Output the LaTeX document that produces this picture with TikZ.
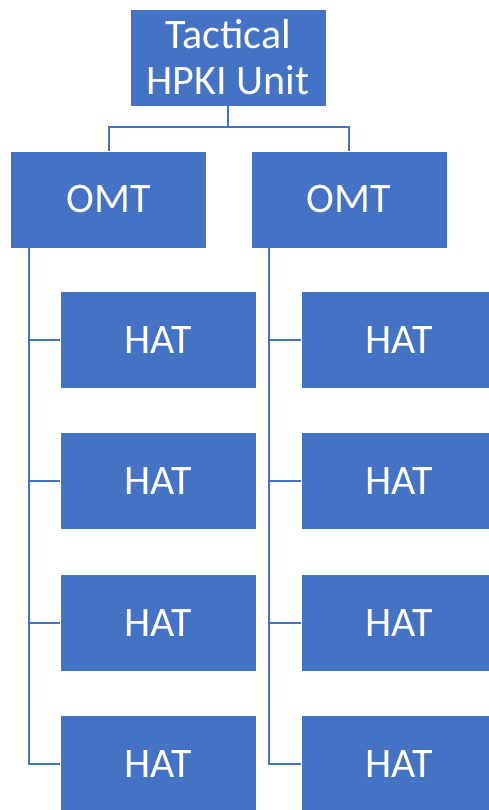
\documentclass[tikz,border=0pt]{standalone}
\usepackage{fontspec}
\setmainfont{Carlito}
\usetikzlibrary{positioning}
\definecolor{unitblue}{HTML}{4472C4}
\tikzset{
  unit/.style={rectangle, fill=unitblue, draw=white, line width=0.8pt,
    text=white, minimum width=196pt, minimum height=97pt, inner sep=0pt,
    font=\fontsize{42}{46}\selectfont, align=center},
  link/.style={draw=unitblue, line width=2pt}
}
\begin{document}
\begin{tikzpicture}[x=1pt, y=-1pt, node distance=141.3pt]
  \useasboundingbox (0,0) rectangle (488,810);
  \node[unit] (hpki) at (228,57.5) {Tactical\\HPKI Unit};
  \node[unit] (omtA) at (108.5,199.5) {OMT};
  \node[unit] (omtB) at (349,199.5) {OMT};
  \node[unit] (hatA1) at (158,340) {HAT};
  \node[unit, below of=hatA1] (hatA2) {HAT};
  \node[unit, below of=hatA2] (hatA3) {HAT};
  \node[unit, below of=hatA3] (hatA4) {HAT};
  \node[unit] (hatB1) at (399,340) {HAT};
  \node[unit, below of=hatB1] (hatB2) {HAT};
  \node[unit, below of=hatB2] (hatB3) {HAT};
  \node[unit, below of=hatB3] (hatB4) {HAT};
  \draw[link] (hpki.south) -- ++(0,21) -| (omtA.north);
  \draw[link] (hpki.south) -- ++(0,21) -| (omtB.north);
  \foreach \i in {1,...,4} {
    \draw[link] ([xshift=19pt]omtA.south west) |- (hatA\i.west);
    \draw[link] ([xshift=18pt]omtB.south west) |- (hatB\i.west);
  }
\end{tikzpicture}
\end{document}
